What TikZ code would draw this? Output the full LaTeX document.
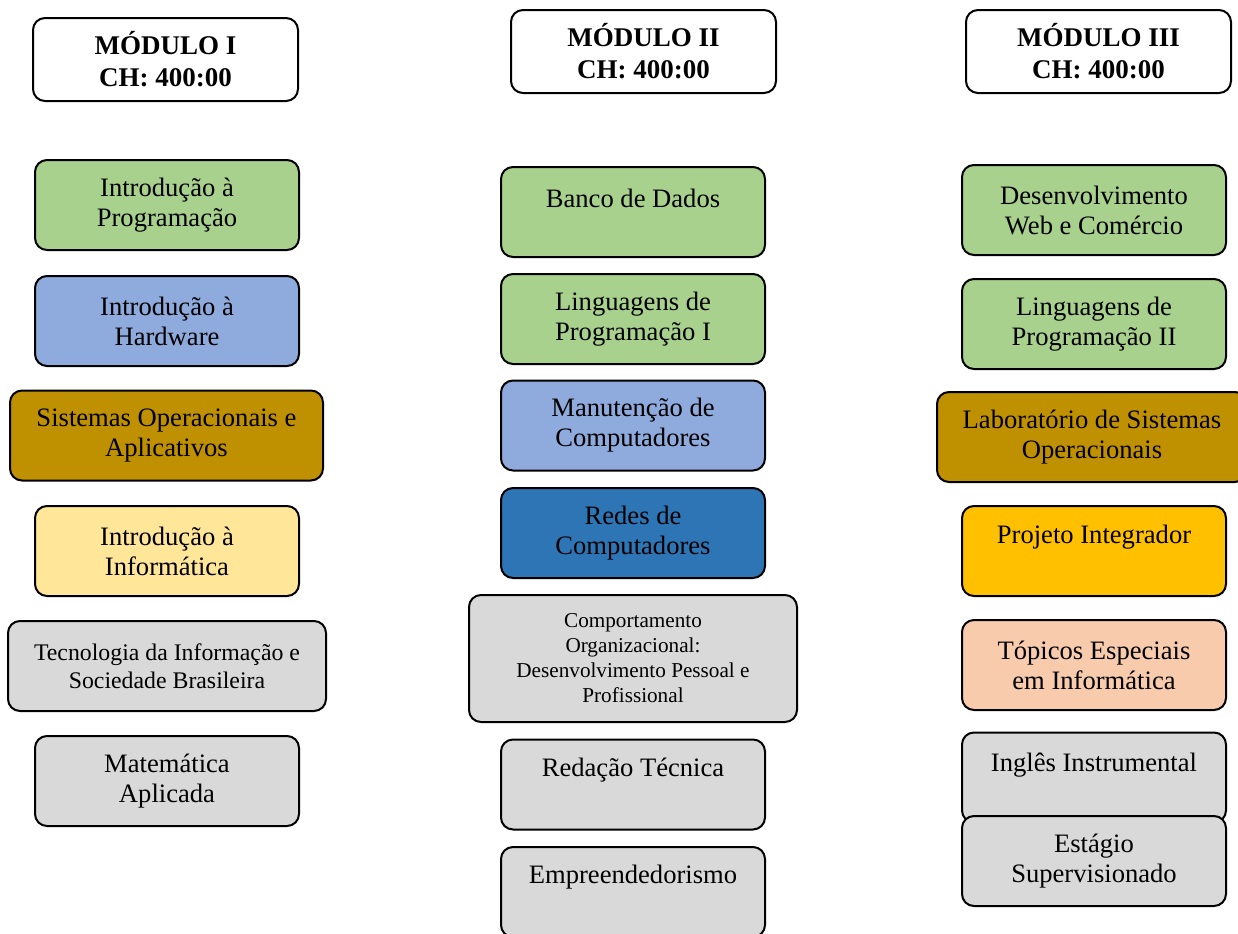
\documentclass[tikz,border=0pt]{standalone}
\usepackage{fontspec}
\setmainfont{Liberation Serif}
\definecolor{verde}{HTML}{A9D18E}
\definecolor{azulclaro}{HTML}{8FAADC}
\definecolor{ouro}{HTML}{BF9000}
\definecolor{amarelo}{HTML}{FFE699}
\definecolor{cinza}{HTML}{D9D9D9}
\definecolor{azul}{HTML}{2E75B6}
\definecolor{laranja}{HTML}{FFC000}
\definecolor{pessego}{HTML}{F8CBAD}
\tikzset{
 cell/.style={draw=black, line width=1pt, rounded corners=6pt, inner sep=2pt, align=center,
   minimum width=132pt, minimum height=45pt, font=\fontsize{13.3}{15}\selectfont},
 head/.style={cell, fill=white, minimum width=132.5pt, minimum height=41.5pt,
   font=\bfseries\fontsize{13.5}{16}\selectfont},
 txt/.style={align=center, font=\fontsize{13.3}{15}\selectfont},
}

\begin{document}
\begin{tikzpicture}[x=0.5pt, y=-0.5pt]
\useasboundingbox (0,0) rectangle (1238,933);
% Modulo I
\node[head] (m1) at (165.5,59.5) {MÓDULO I\\CH: 400:00};
\node[cell, fill=verde] (introprog) at (167,205) {Introdução à\\Programação};
\node[cell, fill=azulclaro] (introhw) at (167,321) {Introdução à\\Hardware};
\node[cell, fill=ouro, minimum width=156.5pt] (sisop) at (166.5,435.5) {Sistemas Operacionais e\\Aplicativos};
\node[cell, fill=amarelo] (introinf) at (167,551) {Introdução à\\Informática};
\node[cell, fill=cinza, minimum width=159pt, font=\fontsize{11.9}{14}\selectfont] (tecinf) at (167,666)
  {Tecnologia da Informação e\\Sociedade Brasileira};
\node[cell, fill=cinza] (matap) at (167,781) {Matemática\\Aplicada};
% Modulo II
\node[head] (m2) at (643.5,51.5) {MÓDULO II\\CH: 400:00};
\node[cell, fill=verde, label={[txt, yshift=7pt]center:Banco de Dados}] (bd) at (633,212) {};
\node[cell, fill=verde] (ling1) at (633,319) {Linguagens de\\Programação I};
\node[cell, fill=azulclaro] (manut) at (633,425.5) {Manutenção de\\Computadores};
\node[cell, fill=azul] (redes) at (633,533) {Redes de\\Computadores};
\node[cell, fill=cinza, minimum width=164pt, minimum height=63.5pt, font=\fontsize{10.6}{12.5}\selectfont] (comport) at (633,658.5)
  {Comportamento\\Organizacional:\\Desenvolvimento Pessoal e\\Profissional};
\node[cell, fill=cinza, label={[txt, yshift=7pt]center:Redação Técnica}] (redacao) at (633,784.5) {};
\node[cell, fill=cinza, label={[txt, yshift=7.5pt]center:Empreendedorismo}] (empreend) at (633,892) {};
% Modulo III
\node[head] (m3) at (1098.5,51.5) {MÓDULO III\\CH: 400:00};
\node[cell, fill=verde] (webcom) at (1094,210) {Desenvolvimento\\Web e Comércio};
\node[cell, fill=verde] (ling2) at (1094,324) {Linguagens de\\Programação II};
\node[cell, fill=ouro, minimum width=155pt] (labso) at (1092,437) {Laboratório de Sistemas\\Operacionais};
\node[cell, fill=laranja, label={[txt, yshift=7pt]center:Projeto Integrador}] (projint) at (1094,551) {};
\node[cell, fill=pessego] (topicos) at (1094,665) {Tópicos Especiais\\em Informática};
\node[cell, fill=cinza, label={[txt, yshift=6pt]center:Inglês Instrumental}] (ingles) at (1094,777.5) {};
\node[cell, fill=cinza] (estagio) at (1094,861) {Estágio\\Supervisionado};
\end{tikzpicture}
\end{document}
